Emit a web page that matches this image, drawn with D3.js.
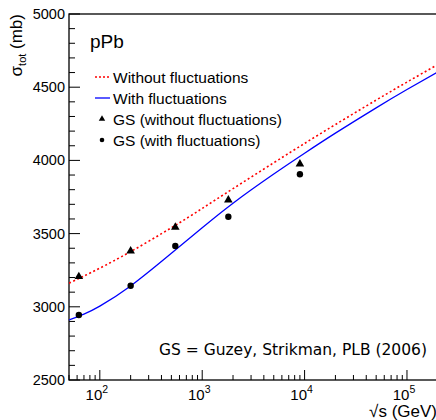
<!DOCTYPE html>
<html>
<head>
<meta charset="utf-8">
<script src="https://cdn.jsdelivr.net/npm/d3@7"></script>
<style>
  body { margin: 0; background: #fff; }
  svg { display: block; font-family: "Liberation Sans", Arial, sans-serif; }
</style>
</head>
<body>
<svg id="chart" width="436" height="420"></svg>
<script>
// Total pPb cross section versus collision energy
const energyGrid = [50, 70, 100, 200, 500, 1000, 2000, 5000, 10000, 20000, 50000, 100000, 200000];
const sigmaNoFluct = [3161, 3210, 3264, 3377, 3540, 3672, 3807, 3984, 4116, 4245, 4412, 4535, 4655];
const sigmaFluct = [2910, 2950, 3005, 3142, 3365, 3540, 3708, 3907, 4049, 4186, 4359, 4484, 4604];

const gsEnergy = [62.4, 200, 546, 1800, 9000];
const gsNoFluct = [3206, 3381, 3543, 3730, 3975];
const gsFluct = [2944, 3144, 3415, 3615, 3905];

const yTicks = [2500, 3000, 3500, 4000, 4500, 5000];
const xTickExp = [2, 3, 4, 5];

const svg = d3.select("#chart");
const padL = 69, padT = 14, padB = 380, padR = 437.8;

const x = d3.scaleLog().domain([50, 200000]).range([padL, padR]);
const y = d3.scaleLinear().domain([2500, 5000]).range([padB, padT]);

// frame
svg.append("rect")
  .attr("x", padL).attr("y", padT)
  .attr("width", padR - padL).attr("height", padB - padT)
  .attr("fill", "none").attr("stroke", "#000").attr("stroke-width", 1.3);

// y ticks (inward)
const yMinor = d3.range(2500, 5001, 100);
svg.append("g").selectAll("line").data(yMinor).join("line")
  .attr("x1", padL).attr("x2", d => padL + (d % 500 === 0 ? 11 : 6))
  .attr("y1", d => y(d)).attr("y2", d => y(d))
  .attr("stroke", "#000").attr("stroke-width", 1);
svg.append("g").selectAll("text").data(yTicks).join("text")
  .attr("x", padL - 4).attr("y", d => y(d) + 5)
  .attr("text-anchor", "end").attr("font-size", 14.5)
  .text(d => d);

// x ticks (inward)
const xMinor = [];
for (let e = 1; e <= 5; e++) {
  for (let m = 1; m <= 9; m++) {
    const v = m * Math.pow(10, e);
    if (v >= 50 && v <= 200000) xMinor.push({ v, major: m === 1 });
  }
}
svg.append("g").selectAll("line").data(xMinor).join("line")
  .attr("x1", d => x(d.v)).attr("x2", d => x(d.v))
  .attr("y1", padB).attr("y2", d => padB - (d.major ? 10 : 5))
  .attr("stroke", "#000").attr("stroke-width", 1);
const xl = svg.append("g").selectAll("text").data(xTickExp).join("text")
  .attr("x", d => x(Math.pow(10, d)) - 3).attr("y", 400)
  .attr("text-anchor", "middle").attr("font-size", 15);
xl.append("tspan").text("10");
xl.append("tspan").attr("dy", -7).attr("font-size", 10.5).text(d => d);

// axis titles
const xt = svg.append("text").attr("x", 437).attr("y", 417)
  .attr("text-anchor", "end").attr("font-size", 17);
xt.append("tspan").text("\u221As (GeV)");

const yt = svg.append("text")
  .attr("transform", "translate(22,14) rotate(-90)")
  .attr("text-anchor", "end").attr("font-size", 17);
yt.append("tspan").text("\u03C3");
yt.append("tspan").attr("dy", 4).attr("font-size", 11).text("tot");
yt.append("tspan").attr("dy", -4).text(" (mb)");

// curves
const line = d3.line().curve(d3.curveNatural);
const redPts = energyGrid.map((e, i) => [x(e), y(sigmaNoFluct[i])]);
const bluePts = energyGrid.map((e, i) => [x(e), y(sigmaFluct[i])]);

svg.append("defs").append("clipPath").attr("id", "clip")
  .append("rect").attr("x", padL).attr("y", padT)
  .attr("width", padR - padL).attr("height", padB - padT);

const plot = svg.append("g").attr("clip-path", "url(#clip)");
plot.append("path").attr("d", line(redPts))
  .attr("fill", "none").attr("stroke", "#ff0000").attr("stroke-width", 1.6)
  .attr("stroke-dasharray", "2,2.5");
plot.append("path").attr("d", line(bluePts))
  .attr("fill", "none").attr("stroke", "#0000ff").attr("stroke-width", 1.3);

const tri = d3.symbol().type(d3.symbolTriangle).size(32);
plot.append("g").selectAll("path").data(gsEnergy).join("path")
  .attr("transform", (d, i) => `translate(${x(d)},${y(gsNoFluct[i])})`)
  .attr("d", tri).attr("fill", "#000");
plot.append("g").selectAll("circle").data(gsEnergy).join("circle")
  .attr("cx", d => x(d)).attr("cy", (d, i) => y(gsFluct[i]))
  .attr("r", 3.2).attr("fill", "#000");

// label
svg.append("text").attr("x", 90).attr("y", 48).attr("font-size", 19).text("pPb");

// legend
const legend = svg.append("g");
const rows = [
  { label: "Without fluctuations", kind: "red", yy: 77 },
  { label: "With fluctuations", kind: "blue", yy: 98 },
  { label: "GS (without fluctuations)", kind: "tri", yy: 119 },
  { label: "GS (with fluctuations)", kind: "circ", yy: 140 }
];
rows.forEach(r => {
  if (r.kind === "red") {
    legend.append("line").attr("x1", 95).attr("x2", 110).attr("y1", r.yy).attr("y2", r.yy)
      .attr("stroke", "#ff0000").attr("stroke-width", 1.5).attr("stroke-dasharray", "2,2");
  } else if (r.kind === "blue") {
    legend.append("line").attr("x1", 95).attr("x2", 110).attr("y1", r.yy).attr("y2", r.yy)
      .attr("stroke", "#0000ff").attr("stroke-width", 1.3);
  } else if (r.kind === "tri") {
    legend.append("path").attr("transform", `translate(102,${r.yy})`)
      .attr("d", d3.symbol().type(d3.symbolTriangle).size(18)).attr("fill", "#000");
  } else {
    legend.append("circle").attr("cx", 102).attr("cy", r.yy).attr("r", 2.3).attr("fill", "#000");
  }
  legend.append("text").attr("x", 113).attr("y", r.yy + 5.5).attr("font-size", 15.5).text(r.label);
});

// reference note
svg.append("text").attr("x", 427).attr("y", 355).attr("text-anchor", "end")
  .attr("font-size", 15.5).attr("font-family", "DejaVu Sans, sans-serif")
  .attr("textLength", 268)
  .text("GS = Guzey, Strikman, PLB (2006)");
</script>
</body>
</html>
